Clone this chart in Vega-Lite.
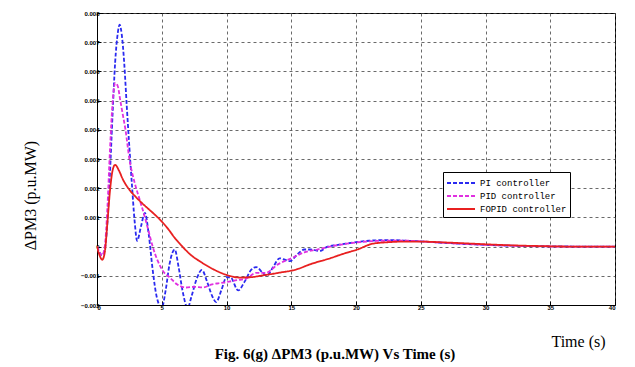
{
  "$schema": "https://vega.github.io/schema/vega-lite/v6.json",
  "autosize": {"type": "none"},
  "width": 518,
  "height": 292,
  "padding": {"left": 97, "top": 13, "right": 20, "bottom": 62},
  "background": "white",
  "config": {
    "view": {"stroke": "black", "strokeWidth": 1},
    "font": "Liberation Serif"
  },
  "title": {
    "text": "Fig. 6(g) ΔPM3 (p.u.MW) Vs Time (s)",
    "orient": "bottom",
    "anchor": "middle",
    "font": "Liberation Serif",
    "fontSize": 15,
    "fontWeight": "bold",
    "color": "black",
    "dx": -21,
    "dy": -4,
    "offset": 2
  },
  "data": {
    "values": [
      {"t": 0, "v": 0, "s": "PI controller"},
      {"t": 0.2, "v": -0.0002, "s": "PI controller"},
      {"t": 0.4, "v": -0.0003, "s": "PI controller"},
      {"t": 0.6, "v": -0.0001, "s": "PI controller"},
      {"t": 0.8, "v": 0.0008, "s": "PI controller"},
      {"t": 1.0, "v": 0.0025, "s": "PI controller"},
      {"t": 1.2, "v": 0.0045, "s": "PI controller"},
      {"t": 1.4, "v": 0.0063, "s": "PI controller"},
      {"t": 1.6, "v": 0.0073, "s": "PI controller"},
      {"t": 1.75, "v": 0.0076, "s": "PI controller"},
      {"t": 1.9, "v": 0.0073, "s": "PI controller"},
      {"t": 2.1, "v": 0.0063, "s": "PI controller"},
      {"t": 2.3, "v": 0.0048, "s": "PI controller"},
      {"t": 2.5, "v": 0.0034, "s": "PI controller"},
      {"t": 2.7, "v": 0.0021, "s": "PI controller"},
      {"t": 2.9, "v": 0.0009, "s": "PI controller"},
      {"t": 3.1, "v": 0.0002, "s": "PI controller"},
      {"t": 3.4, "v": 0.0007, "s": "PI controller"},
      {"t": 3.7, "v": 0.00115, "s": "PI controller"},
      {"t": 4.0, "v": 0.0004, "s": "PI controller"},
      {"t": 4.3, "v": -0.0008, "s": "PI controller"},
      {"t": 4.6, "v": -0.0017, "s": "PI controller"},
      {"t": 5.0, "v": -0.0021, "s": "PI controller"},
      {"t": 5.3, "v": -0.0015, "s": "PI controller"},
      {"t": 5.6, "v": -0.0006, "s": "PI controller"},
      {"t": 6.0, "v": -0.0001, "s": "PI controller"},
      {"t": 6.3, "v": -0.0007, "s": "PI controller"},
      {"t": 6.6, "v": -0.0015, "s": "PI controller"},
      {"t": 7.0, "v": -0.0021, "s": "PI controller"},
      {"t": 7.3, "v": -0.0017, "s": "PI controller"},
      {"t": 7.7, "v": -0.0011, "s": "PI controller"},
      {"t": 8.1, "v": -0.0008, "s": "PI controller"},
      {"t": 8.5, "v": -0.0012, "s": "PI controller"},
      {"t": 8.9, "v": -0.0017, "s": "PI controller"},
      {"t": 9.2, "v": -0.0019, "s": "PI controller"},
      {"t": 9.6, "v": -0.0015, "s": "PI controller"},
      {"t": 10.0, "v": -0.00105, "s": "PI controller"},
      {"t": 10.3, "v": -0.00105, "s": "PI controller"},
      {"t": 10.9, "v": -0.0015, "s": "PI controller"},
      {"t": 11.4, "v": -0.0012, "s": "PI controller"},
      {"t": 11.9, "v": -0.0008, "s": "PI controller"},
      {"t": 12.3, "v": -0.0007, "s": "PI controller"},
      {"t": 12.8, "v": -0.0009, "s": "PI controller"},
      {"t": 13.1, "v": -0.001, "s": "PI controller"},
      {"t": 13.6, "v": -0.0007, "s": "PI controller"},
      {"t": 14.1, "v": -0.0004, "s": "PI controller"},
      {"t": 14.5, "v": -0.00045, "s": "PI controller"},
      {"t": 14.9, "v": -0.0005, "s": "PI controller"},
      {"t": 15.4, "v": -0.0003, "s": "PI controller"},
      {"t": 16.0, "v": -0.0001, "s": "PI controller"},
      {"t": 16.5, "v": -0.0001, "s": "PI controller"},
      {"t": 17.2, "v": -0.00015, "s": "PI controller"},
      {"t": 17.8, "v": 0.0, "s": "PI controller"},
      {"t": 18.5, "v": 0.00005, "s": "PI controller"},
      {"t": 19.2, "v": 0.0001, "s": "PI controller"},
      {"t": 20, "v": 0.00015, "s": "PI controller"},
      {"t": 21, "v": 0.0002, "s": "PI controller"},
      {"t": 22, "v": 0.00022, "s": "PI controller"},
      {"t": 23, "v": 0.00022, "s": "PI controller"},
      {"t": 24, "v": 0.0002, "s": "PI controller"},
      {"t": 25, "v": 0.00018, "s": "PI controller"},
      {"t": 26, "v": 0.00015, "s": "PI controller"},
      {"t": 28, "v": 0.0001, "s": "PI controller"},
      {"t": 30, "v": 0.00006, "s": "PI controller"},
      {"t": 32, "v": 0.00003, "s": "PI controller"},
      {"t": 35, "v": 0.00001, "s": "PI controller"},
      {"t": 38, "v": 0, "s": "PI controller"},
      {"t": 40, "v": 0, "s": "PI controller"},

      {"t": 0, "v": 0, "s": "PID controller"},
      {"t": 0.2, "v": -0.0002, "s": "PID controller"},
      {"t": 0.4, "v": -0.0003, "s": "PID controller"},
      {"t": 0.6, "v": 0.0, "s": "PID controller"},
      {"t": 0.8, "v": 0.0013, "s": "PID controller"},
      {"t": 1.0, "v": 0.0033, "s": "PID controller"},
      {"t": 1.2, "v": 0.0049, "s": "PID controller"},
      {"t": 1.4, "v": 0.0056, "s": "PID controller"},
      {"t": 1.6, "v": 0.0055, "s": "PID controller"},
      {"t": 1.8, "v": 0.005, "s": "PID controller"},
      {"t": 2.0, "v": 0.0045, "s": "PID controller"},
      {"t": 2.2, "v": 0.004, "s": "PID controller"},
      {"t": 2.5, "v": 0.003, "s": "PID controller"},
      {"t": 2.9, "v": 0.0022, "s": "PID controller"},
      {"t": 3.3, "v": 0.0016, "s": "PID controller"},
      {"t": 3.7, "v": 0.001, "s": "PID controller"},
      {"t": 4.0, "v": 0.0005, "s": "PID controller"},
      {"t": 4.3, "v": 0.0, "s": "PID controller"},
      {"t": 4.7, "v": -0.0005, "s": "PID controller"},
      {"t": 5.2, "v": -0.0009, "s": "PID controller"},
      {"t": 5.6, "v": -0.00105, "s": "PID controller"},
      {"t": 6.2, "v": -0.0013, "s": "PID controller"},
      {"t": 6.9, "v": -0.0014, "s": "PID controller"},
      {"t": 7.5, "v": -0.00138, "s": "PID controller"},
      {"t": 8.2, "v": -0.0014, "s": "PID controller"},
      {"t": 8.8, "v": -0.0013, "s": "PID controller"},
      {"t": 9.5, "v": -0.00125, "s": "PID controller"},
      {"t": 10.2, "v": -0.0012, "s": "PID controller"},
      {"t": 10.8, "v": -0.00115, "s": "PID controller"},
      {"t": 11.5, "v": -0.0011, "s": "PID controller"},
      {"t": 12.3, "v": -0.0009, "s": "PID controller"},
      {"t": 13.0, "v": -0.0009, "s": "PID controller"},
      {"t": 14.0, "v": -0.0006, "s": "PID controller"},
      {"t": 15.0, "v": -0.0004, "s": "PID controller"},
      {"t": 16.0, "v": -0.0002, "s": "PID controller"},
      {"t": 17.0, "v": -0.0001, "s": "PID controller"},
      {"t": 18.0, "v": 0.0, "s": "PID controller"},
      {"t": 19, "v": 0.00008, "s": "PID controller"},
      {"t": 20, "v": 0.00014, "s": "PID controller"},
      {"t": 21, "v": 0.00018, "s": "PID controller"},
      {"t": 22, "v": 0.0002, "s": "PID controller"},
      {"t": 23, "v": 0.0002, "s": "PID controller"},
      {"t": 24, "v": 0.0002, "s": "PID controller"},
      {"t": 26, "v": 0.00015, "s": "PID controller"},
      {"t": 28, "v": 0.0001, "s": "PID controller"},
      {"t": 30, "v": 0.00006, "s": "PID controller"},
      {"t": 33, "v": 0.00002, "s": "PID controller"},
      {"t": 36, "v": 0.0, "s": "PID controller"},
      {"t": 40, "v": 0, "s": "PID controller"},

      {"t": 0, "v": 0, "s": "FOPID controller"},
      {"t": 0.2, "v": -0.0003, "s": "FOPID controller"},
      {"t": 0.4, "v": -0.00045, "s": "FOPID controller"},
      {"t": 0.6, "v": -0.0002, "s": "FOPID controller"},
      {"t": 0.8, "v": 0.0008, "s": "FOPID controller"},
      {"t": 1.0, "v": 0.0019, "s": "FOPID controller"},
      {"t": 1.2, "v": 0.0026, "s": "FOPID controller"},
      {"t": 1.4, "v": 0.0028, "s": "FOPID controller"},
      {"t": 1.7, "v": 0.0026, "s": "FOPID controller"},
      {"t": 2.0, "v": 0.0023, "s": "FOPID controller"},
      {"t": 2.5, "v": 0.00195, "s": "FOPID controller"},
      {"t": 3.0, "v": 0.0017, "s": "FOPID controller"},
      {"t": 3.5, "v": 0.00148, "s": "FOPID controller"},
      {"t": 4.0, "v": 0.00128, "s": "FOPID controller"},
      {"t": 4.5, "v": 0.00108, "s": "FOPID controller"},
      {"t": 5.0, "v": 0.00086, "s": "FOPID controller"},
      {"t": 5.5, "v": 0.0006, "s": "FOPID controller"},
      {"t": 6.0, "v": 0.0003, "s": "FOPID controller"},
      {"t": 6.6, "v": 0.0, "s": "FOPID controller"},
      {"t": 7.2, "v": -0.00027, "s": "FOPID controller"},
      {"t": 8.0, "v": -0.00052, "s": "FOPID controller"},
      {"t": 9.0, "v": -0.00078, "s": "FOPID controller"},
      {"t": 10.0, "v": -0.00097, "s": "FOPID controller"},
      {"t": 11.0, "v": -0.00106, "s": "FOPID controller"},
      {"t": 11.8, "v": -0.00105, "s": "FOPID controller"},
      {"t": 12.9, "v": -0.00098, "s": "FOPID controller"},
      {"t": 14, "v": -0.0009, "s": "FOPID controller"},
      {"t": 15.4, "v": -0.00078, "s": "FOPID controller"},
      {"t": 16.5, "v": -0.0006, "s": "FOPID controller"},
      {"t": 18, "v": -0.0004, "s": "FOPID controller"},
      {"t": 19, "v": -0.00025, "s": "FOPID controller"},
      {"t": 20.1, "v": -0.0001, "s": "FOPID controller"},
      {"t": 21.3, "v": 0.0001, "s": "FOPID controller"},
      {"t": 22.5, "v": 0.00015, "s": "FOPID controller"},
      {"t": 23.5, "v": 0.00017, "s": "FOPID controller"},
      {"t": 25, "v": 0.00017, "s": "FOPID controller"},
      {"t": 27, "v": 0.00014, "s": "FOPID controller"},
      {"t": 29, "v": 0.0001, "s": "FOPID controller"},
      {"t": 31, "v": 0.00006, "s": "FOPID controller"},
      {"t": 34, "v": 0.00002, "s": "FOPID controller"},
      {"t": 37, "v": 0.0, "s": "FOPID controller"},
      {"t": 40, "v": 0, "s": "FOPID controller"}
    ]
  },
  "mark": {"type": "line", "interpolate": "monotone", "strokeWidth": 1.8, "clip": true},
  "encoding": {
    "x": {
      "field": "t", "type": "quantitative",
      "scale": {"domain": [0, 40], "nice": false},
      "axis": {
        "values": [0, 5, 10, 15, 20, 25, 30, 35, 40],
        "title": "Time (s)",
        "titleFont": "Liberation Serif", "titleFontSize": 16, "titleFontWeight": "normal", "titleColor": "black",
        "titleX": 481, "titleY": 36, "titleAlign": "center", "titleBaseline": "middle",
        "labelFont": "Liberation Sans", "labelFontSize": 6, "labelFontWeight": "bold", "labelColor": "black",
        "labelPadding": 3,
        "grid": true, "gridDash": [3, 3], "gridColor": "#444", "gridWidth": 0.8,
        "domainColor": "black", "ticks": true, "tickSize": -4, "tickColor": "black"
      }
    },
    "y": {
      "field": "v", "type": "quantitative",
      "scale": {"domain": [-0.002, 0.008], "nice": false},
      "axis": {
        "values": [-0.002, -0.001, 0, 0.001, 0.002, 0.003, 0.004, 0.005, 0.006, 0.007, 0.008],
        "labelExpr": "datum.value == 0 ? '0' : format(datum.value, '.3f')",
        "title": "ΔPM3 (p.u.MW)",
        "titleFont": "Liberation Serif", "titleFontSize": 16, "titleFontWeight": "normal", "titleColor": "black",
        "titleX": -67, "titleY": 182, "titleAlign": "center", "titleBaseline": "middle", "titleAngle": -90,
        "labelFont": "Liberation Sans", "labelFontSize": 6, "labelFontWeight": "bold", "labelColor": "black",
        "labelPadding": 2,
        "grid": true, "gridDash": [3, 3], "gridColor": "#444", "gridWidth": 0.8,
        "domainColor": "black", "ticks": true, "tickSize": -4, "tickColor": "black"
      }
    },
    "color": {
      "field": "s", "type": "nominal", "sort": null,
      "scale": {"domain": ["PI controller", "PID controller", "FOPID controller"], "range": ["#2a2af0", "#e030e0", "#e82020"]},
      "legend": {
        "title": null, "orient": "none", "legendX": 346, "legendY": 159,
        "fillColor": "white", "strokeColor": "black", "padding": 3,
        "labelFont": "Liberation Mono", "labelFontSize": 9, "labelColor": "black",
        "symbolType": "M-1,0H3", "symbolSize": 196, "symbolStrokeWidth": 1.8,
        "rowPadding": 0, "labelLimit": 120, "labelOffset": 18
      }
    },
    "strokeDash": {
      "field": "s", "type": "nominal", "sort": null,
      "scale": {"domain": ["PI controller", "PID controller", "FOPID controller"], "range": [[4, 2], [4, 2], [1, 0]]},
      "legend": null
    }
  }
}
